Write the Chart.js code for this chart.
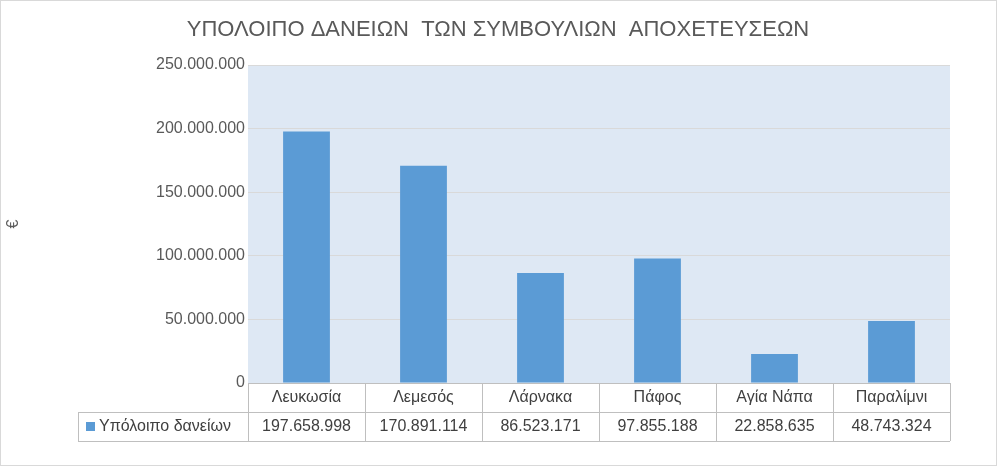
<!DOCTYPE html>
<html>
<head>
<meta charset="utf-8">
<script src="https://cdn.jsdelivr.net/npm/chart.js@4"></script>
<style>
  body { margin: 0; background: #fff; }
  #wrap { width: 997px; height: 466px; position: relative; }
</style>
</head>
<body>
<div id="wrap"><canvas id="chart" width="997" height="466"></canvas></div>
<script>
const categories = ['Λευκωσία', 'Λεμεσός', 'Λάρνακα', 'Πάφος', 'Αγία Νάπα', 'Παραλίμνι'];
const loans = [197658998, 170891114, 86523171, 97855188, 22858635, 48743324];
const seriesLabel = 'Υπόλοιπο δανείων';
const titleText = 'ΥΠΟΛΟΙΠΟ ΔΑΝΕΙΩΝ  ΤΩΝ ΣΥΜΒΟΥΛΙΩΝ  ΑΠΟΧΕΤΕΥΣΕΩΝ';

const fmt = v => v.toLocaleString('de-DE');
const textColor = '#404040';
const lineColor = '#bfbfbf';

// title, plot background, data table
const extras = {
    id: 'extras',
    beforeDraw(chart) {
        const { ctx, chartArea: a } = chart;
        ctx.save();
        ctx.fillStyle = '#dee8f4';
        ctx.fillRect(a.left, a.top, a.right - a.left, a.bottom - a.top);
        ctx.restore();
    },
    afterDraw(chart) {
        const { ctx, chartArea: a } = chart;
        const x = chart.scales.x;
        ctx.save();
        ctx.fillStyle = '#595959';
        ctx.font = '22px "Liberation Sans", Arial, sans-serif';
        ctx.textAlign = 'center';
        ctx.textBaseline = 'middle';
        ctx.fillText(titleText, 498, 30);

        const row1 = a.bottom, row2 = a.bottom + 29, row3 = a.bottom + 58;
        const step = (a.right - a.left) / categories.length;
        ctx.strokeStyle = lineColor;
        ctx.lineWidth = 1;
        ctx.beginPath();
        ctx.moveTo(a.left, row1 + 0.5); ctx.lineTo(a.right, row1 + 0.5);
        ctx.moveTo(78, row2 + 0.5); ctx.lineTo(a.right, row2 + 0.5);
        ctx.moveTo(78, row3 + 0.5); ctx.lineTo(a.right, row3 + 0.5);
        ctx.moveTo(78.5, row2); ctx.lineTo(78.5, row3);
        for (let i = 0; i <= categories.length; i++) {
            const px = Math.round(a.left + i * step) + 0.5;
            ctx.moveTo(px, row1); ctx.lineTo(px, row3);
        }
        ctx.stroke();

        ctx.fillStyle = textColor;
        ctx.font = '16px "Liberation Sans", Arial, sans-serif';
        categories.forEach((c, i) => {
            const cx = x.getPixelForValue(i);
            ctx.fillText(c, cx, (row1 + row2) / 2);
            ctx.fillText(fmt(loans[i]), cx, (row2 + row3) / 2);
        });
        ctx.fillStyle = '#5b9bd5';
        ctx.fillRect(86, row2 + 10, 9, 9);
        ctx.fillStyle = textColor;
        ctx.textAlign = 'left';
        ctx.fillText(seriesLabel, 99, (row2 + row3) / 2);

        ctx.strokeStyle = '#d9d9d9';
        ctx.strokeRect(0.5, 0.5, 996, 465);
        ctx.restore();
    }
};

new Chart(document.getElementById('chart'), {
    type: 'bar',
    data: {
        labels: categories,
        datasets: [{
            label: seriesLabel,
            data: loans,
            backgroundColor: '#5b9bd5',
            barPercentage: 0.4,
            categoryPercentage: 1
        }]
    },
    options: {
        responsive: false,
        animation: false,
        layout: { padding: { top: 65, right: 47, bottom: 83, left: 0 } },
        plugins: { legend: { display: false }, title: { display: false }, tooltip: { enabled: false } },
        scales: {
            x: { display: false, grid: { display: false } },
            y: {
                min: 0, max: 250000000,
                ticks: {
                    stepSize: 50000000,
                    color: '#595959',
                    font: { size: 16, family: '"Liberation Sans", Arial, sans-serif' },
                    callback: v => fmt(v)
                },
                grid: { color: '#d9d9d9', drawTicks: false },
                border: { display: false },
                title: { display: true, text: '€', color: '#595959', font: { size: 16 } },
                afterFit(scale) { scale.width = 248; }
            }
        }
    },
    plugins: [extras]
});
</script>
</body>
</html>
